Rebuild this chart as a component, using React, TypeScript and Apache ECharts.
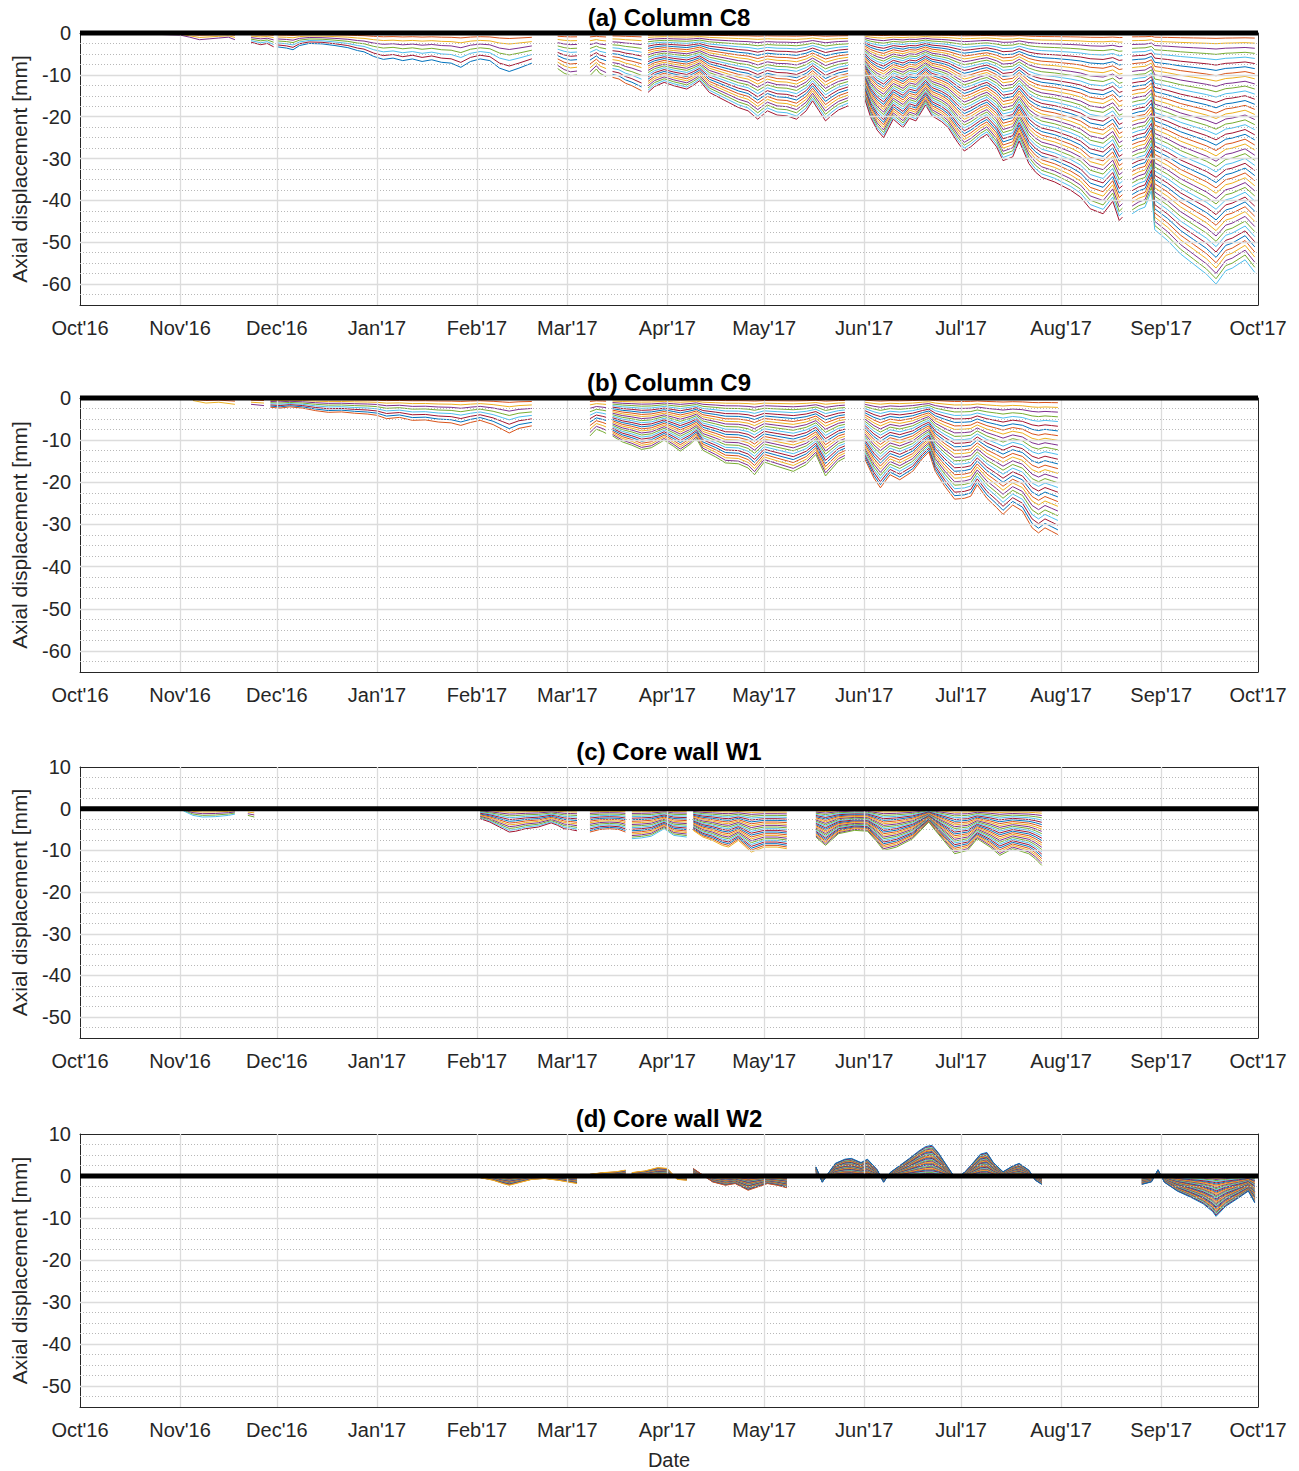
import React, { useEffect, useRef } from 'react';
import * as echarts from 'echarts';

// MATLAB default line colour order
const COLORS = ['#0072BD', '#D95319', '#EDB120', '#7E2F8E', '#77AC30', '#4DBEEE', '#A2142F'];
const MONTH_NAMES = ['Jan', 'Feb', 'Mar', 'Apr', 'May', 'Jun', 'Jul', 'Aug', 'Sep', 'Oct', 'Nov', 'Dec'];
const MONTH_TICKS = ['2016-10-01', '2016-11-01', '2016-12-01', '2017-01-01', '2017-02-01', '2017-03-01',
  '2017-04-01', '2017-05-01', '2017-06-01', '2017-07-01', '2017-08-01', '2017-09-01', '2017-10-01'];
const Y_TICKS_AB = [-60, -50, -40, -30, -20, -10, 0];
const Y_TICKS_CD = [-50, -40, -30, -20, -10, 0, 10];
const TITLES = ['(a) Column C8', '(b) Column C9', '(c) Core wall W1', '(d) Core wall W2'];

// Deepest sensor reading (envelope) per panel; null separates data segments.
// LINES_x: number of sensor curves in each segment.
const DATES_A = ['2016-10-18', '2016-10-24', '2016-10-28', '2016-11-01', '2016-11-04', '2016-11-07', '2016-11-10', '2016-11-13', '2016-11-16', '2016-11-18', null,
  '2016-11-23', '2016-11-26', '2016-11-28', '2016-11-30', null,
  '2016-12-01', '2016-12-04', '2016-12-06', '2016-12-08', '2016-12-11', '2016-12-15', '2016-12-19', '2016-12-23', '2016-12-26', '2016-12-28', '2016-12-31',
  '2017-01-03', '2017-01-06', '2017-01-09', '2017-01-12', '2017-01-15', '2017-01-18', '2017-01-21', '2017-01-24', '2017-01-27', '2017-01-30',
  '2017-02-02', '2017-02-05', '2017-02-08', '2017-02-11', '2017-02-14', '2017-02-18', null,
  '2017-02-26', '2017-02-28', '2017-03-02', '2017-03-04', null,
  '2017-03-08', '2017-03-10', '2017-03-11', '2017-03-13', null,
  '2017-03-15', '2017-03-17', '2017-03-19', '2017-03-21', '2017-03-24', null,
  '2017-03-26', '2017-03-28', '2017-03-31', '2017-04-03', '2017-04-07', '2017-04-09', '2017-04-11', '2017-04-14', '2017-04-17', '2017-04-20',
  '2017-04-23', '2017-04-26', '2017-04-29', '2017-05-02', '2017-05-05', '2017-05-08', '2017-05-11', '2017-05-14', '2017-05-16', '2017-05-18',
  '2017-05-20', '2017-05-22', '2017-05-24', '2017-05-27', null,
  '2017-06-01', '2017-06-03', '2017-06-05', '2017-06-07', '2017-06-10', '2017-06-13', '2017-06-15', '2017-06-17', '2017-06-20', '2017-06-22',
  '2017-06-25', '2017-06-27', '2017-06-30', '2017-07-02', '2017-07-04', '2017-07-07', '2017-07-09', '2017-07-12', '2017-07-14', '2017-07-17',
  '2017-07-19', '2017-07-22', '2017-07-24', '2017-07-26', '2017-07-30', '2017-08-01', '2017-08-04', '2017-08-07', '2017-08-10', '2017-08-14',
  '2017-08-17', '2017-08-19', '2017-08-20', null,
  '2017-08-23', '2017-08-25', '2017-08-27', '2017-08-29', '2017-08-30', '2017-09-03', '2017-09-07', '2017-09-11', '2017-09-15', '2017-09-18',
  '2017-09-21', '2017-09-23', '2017-09-27', '2017-09-30'];
const VALUES_A = [-0.3, -0.3, -0.4, -0.5, -1.0, -1.6, -1.4, -1.2, -1.0, -1.6, null,
  -2.2, -2.8, -2.5, -3.3, null,
  -3.3, -3.6, -4.0, -3.0, -2.5, -2.6, -3.0, -3.5, -4.2, -4.5, -5.6,
  -6.3, -6.0, -6.6, -6.2, -6.8, -6.4, -7.0, -7.2, -8.2, -6.8,
  -6.2, -6.6, -8.4, -9.2, -8.4, -7.2, null,
  -8.5, -9.6, -10.2, -10.0, null,
  -10.2, -8.6, -9.6, -10.4, null,
  -10.6, -11.0, -12.0, -12.6, -13.8, null,
  -14.2, -12.8, -11.8, -12.6, -13.4, -12.5, -11.4, -14.2, -15.4, -16.6,
  -17.8, -18.6, -20.6, -18.6, -19.6, -19.8, -20.6, -18.6, -16.2, -18.6,
  -21.0, -19.6, -18.4, -17.4, null,
  -15.4, -20.2, -23.2, -25.0, -20.6, -22.6, -20.4, -21.0, -17.2, -19.8,
  -21.2, -22.6, -26.2, -28.2, -27.2, -25.2, -24.2, -27.2, -30.5, -29.6,
  -25.8, -31.2, -33.2, -34.5, -35.6, -36.4, -37.6, -39.2, -42.0, -43.2,
  -40.2, -44.8, -44.0, null,
  -43.2, -42.2, -41.6, -37.6, -47.0, -49.6, -52.8, -55.2, -57.6, -60.0,
  -56.8, -56.2, -54.2, -57.2];
const LINES_A = [4, 7, 8, 12, 12, 16, 28, 42, 48];

const DATES_B = ['2016-11-05', '2016-11-09', '2016-11-13', '2016-11-18', null,
  '2016-11-23', '2016-11-27', null,
  '2016-11-29', '2016-12-02', '2016-12-05', '2016-12-09', '2016-12-13', '2016-12-17', '2016-12-21', '2016-12-25', '2016-12-29',
  '2017-01-01', '2017-01-04', '2017-01-08', '2017-01-12', '2017-01-16', '2017-01-20', '2017-01-24', '2017-01-27', '2017-01-30',
  '2017-02-02', '2017-02-06', '2017-02-09', '2017-02-11', '2017-02-14', '2017-02-18', null,
  '2017-03-08', '2017-03-10', '2017-03-12', '2017-03-13', null,
  '2017-03-15', '2017-03-18', '2017-03-21', '2017-03-24', '2017-03-27', '2017-03-31', '2017-04-03', '2017-04-05', '2017-04-08', '2017-04-10',
  '2017-04-12', '2017-04-16', '2017-04-19', '2017-04-23', '2017-04-26', '2017-04-28', '2017-05-01', '2017-05-05', '2017-05-10', '2017-05-14',
  '2017-05-17', '2017-05-20', '2017-05-24', '2017-05-26', null,
  '2017-06-01', '2017-06-04', '2017-06-06', '2017-06-09', '2017-06-12', '2017-06-16', '2017-06-19', '2017-06-21', '2017-06-23', '2017-06-26',
  '2017-06-29', '2017-07-02', '2017-07-04', '2017-07-06', '2017-07-09', '2017-07-12', '2017-07-14', '2017-07-17', '2017-07-20', '2017-07-23',
  '2017-07-25', '2017-07-27', '2017-07-29', '2017-07-31'];
const VALUES_B = [-0.6, -1.2, -1.0, -1.5, null,
  -1.5, -1.8, null,
  -2.2, -2.4, -2.1, -2.4, -3.0, -3.4, -3.3, -3.6, -3.8,
  -4.1, -4.9, -4.6, -5.3, -5.2, -5.7, -5.9, -6.5, -5.8,
  -5.3, -6.3, -7.5, -8.3, -7.2, -6.6, null,
  -9.0, -7.4, -8.0, -8.4, null,
  -9.0, -10.4, -11.2, -12.2, -11.8, -10.0, -11.5, -12.6, -11.0, -9.6,
  -12.4, -14.0, -15.4, -15.6, -16.6, -18.2, -15.2, -16.2, -17.4, -15.8,
  -13.4, -18.5, -15.0, -14.2, null,
  -14.2, -19.0, -21.3, -18.2, -19.4, -17.4, -14.4, -12.8, -17.4, -21.0,
  -24.0, -23.8, -23.3, -20.6, -23.8, -26.0, -27.6, -25.4, -26.8, -30.8,
  -32.0, -30.8, -31.6, -32.4];
const LINES_B = [3, 4, 9, 12, 26, 30];

const DATES_C = ['2016-10-22', '2016-10-27', null,
  '2016-11-02', '2016-11-05', '2016-11-08', '2016-11-12', '2016-11-16', '2016-11-18', null,
  '2016-11-22', '2016-11-24', null,
  '2017-02-02', '2017-02-05', '2017-02-08', '2017-02-11', '2017-02-13', '2017-02-16', '2017-02-20', '2017-02-24', '2017-02-26', '2017-02-28',
  '2017-03-02', '2017-03-04', null,
  '2017-03-08', '2017-03-11', '2017-03-14', '2017-03-17', '2017-03-19', null,
  '2017-03-21', '2017-03-24', '2017-03-27', '2017-03-31', '2017-04-03', '2017-04-07', null,
  '2017-04-09', '2017-04-12', '2017-04-15', '2017-04-18', '2017-04-20', '2017-04-23', '2017-04-27', '2017-05-01', '2017-05-05', '2017-05-08', null,
  '2017-05-17', '2017-05-20', '2017-05-24', '2017-05-29', '2017-06-02', '2017-06-05', '2017-06-07', '2017-06-11', '2017-06-16', '2017-06-21',
  '2017-06-23', '2017-06-26', '2017-06-29', '2017-07-03', '2017-07-06', '2017-07-10', '2017-07-13', '2017-07-17', '2017-07-22', '2017-07-24',
  '2017-07-26'];
const VALUES_C = [-0.3, -0.3, null,
  -0.5, -1.6, -2.0, -1.9, -1.6, -1.3, null,
  -1.6, -2.0, null,
  -2.4, -3.2, -4.4, -5.6, -5.4, -4.8, -4.4, -3.4, -4.0, -4.8,
  -5.0, -5.3, null,
  -5.6, -5.0, -4.8, -5.0, -5.6, null,
  -7.2, -7.0, -6.6, -4.8, -6.4, -6.8, null,
  -5.2, -6.8, -7.6, -8.8, -9.2, -7.6, -10.4, -9.2, -9.2, -9.6, null,
  -6.8, -8.8, -6.0, -5.2, -5.4, -8.0, -10.0, -9.2, -7.2, -3.2,
  -5.2, -8.0, -10.8, -10.0, -7.2, -9.2, -11.2, -9.6, -10.8, -12.0,
  -13.6];
const LINES_C = [2, 6, 5, 14, 16, 20, 24, 26];

const DATES_D = ['2016-11-05', '2016-11-14', null,
  '2017-02-02', '2017-02-06', '2017-02-09', '2017-02-11', '2017-02-14', '2017-02-18', '2017-02-22', '2017-02-26', '2017-03-01', '2017-03-04', null,
  '2017-03-08', '2017-03-12', '2017-03-16', '2017-03-19', null,
  '2017-03-21', '2017-03-25', '2017-03-29', '2017-04-01', '2017-04-04', '2017-04-07', null,
  '2017-04-09', '2017-04-12', '2017-04-15', '2017-04-19', '2017-04-22', '2017-04-26', '2017-04-29', '2017-05-02', '2017-05-05', '2017-05-08', null,
  '2017-05-17', '2017-05-19', '2017-05-21', '2017-05-23', '2017-05-26', '2017-05-28', '2017-05-31', '2017-06-02', '2017-06-05', '2017-06-07',
  '2017-06-09', '2017-06-12', '2017-06-15', '2017-06-18', '2017-06-20', '2017-06-22', '2017-06-24', '2017-06-27', '2017-06-29', '2017-07-02',
  '2017-07-04', '2017-07-07', '2017-07-09', '2017-07-11', '2017-07-14', '2017-07-17', '2017-07-19', '2017-07-22', '2017-07-24', '2017-07-26', null,
  '2017-08-26', '2017-08-29', '2017-08-31', '2017-09-02', '2017-09-06', '2017-09-10', '2017-09-14', '2017-09-17', '2017-09-18', '2017-09-21',
  '2017-09-25', '2017-09-28', '2017-09-30'];
const VALUES_D = [-0.3, -0.3, null,
  -0.4, -1.0, -1.8, -2.2, -1.6, -0.8, -0.6, -1.0, -1.4, -1.8, null,
  0.4, 0.8, 1.0, 1.4, null,
  0.8, 1.2, 2.0, 1.8, -0.8, -1.0, null,
  1.8, 0.2, -1.4, -2.2, -1.8, -3.4, -2.6, -1.8, -2.2, -2.8, null,
  2.2, -1.5, 0.8, 3.0, 4.0, 4.2, 3.2, 4.0, 1.5, -1.5,
  0.8, 2.5, 4.2, 6.0, 7.0, 7.3, 5.5, 2.0, -0.3, 0.8,
  2.5, 5.2, 5.6, 3.2, 1.0, 2.4, 3.0, 1.4, -1.0, -2.0, null,
  -2.0, -1.4, 1.5, -1.5, -3.6, -5.0, -6.6, -8.5, -9.6, -7.2,
  -5.2, -3.6, -6.4];
const LINES_D = [6, 24, 24, 24, 30, 36, 36];

const FONT = "'Liberation Sans', Arial, Helvetica, sans-serif";
const AXIS_COLOR = '#262626';

function ts(s: string): number {
  const [y, m, d] = s.split('-').map(Number);
  return Date.UTC(y, m - 1, d);
}

function segmentsOf(dates: (string | null)[], values: (number | null)[]) {
  const segs: [number, number][][] = [];
  let cur: [number, number][] = [];
  dates.forEach((d, i) => {
    const v = values[i];
    if (d === null || v === null) {
      if (cur.length) segs.push(cur);
      cur = [];
    } else {
      cur.push([ts(d), v]);
    }
  });
  if (cur.length) segs.push(cur);
  return segs;
}

function monthLabel(val: number) {
  const d = new Date(val + 12 * 3600 * 1000);
  return MONTH_NAMES[d.getUTCMonth()] + "'" + String(d.getUTCFullYear()).slice(2);
}

export default function App() {
  const ref = useRef<HTMLDivElement>(null);

  useEffect(() => {
    document.body.style.margin = '0';
    if (!ref.current) return;
    const chart = echarts.init(ref.current, null, { renderer: 'svg' });

    const T0 = ts(MONTH_TICKS[0]);
    const T1 = ts(MONTH_TICKS[MONTH_TICKS.length - 1]);
    const monthTs = MONTH_TICKS.map(ts);

    const panels = [
      { top: 33, h: 272, min: -65, max: 0, ticks: Y_TICKS_AB, dates: DATES_A, values: VALUES_A, lines: LINES_A },
      { top: 398, h: 274, min: -65, max: 0, ticks: Y_TICKS_AB, dates: DATES_B, values: VALUES_B, lines: LINES_B },
      { top: 767, h: 271, min: -55, max: 10, ticks: Y_TICKS_CD, dates: DATES_C, values: VALUES_C, lines: LINES_C },
      { top: 1134, h: 273, min: -55, max: 10, ticks: Y_TICKS_CD, dates: DATES_D, values: VALUES_D, lines: LINES_D },
    ];
    const LEFT = 80;
    const WIDTH = 1178;

    const grid: any[] = [];
    const xAxis: any[] = [];
    const yAxis: any[] = [];
    const series: any[] = [];
    const graphic: any[] = [];

    panels.forEach((p, g) => {
      grid.push({ left: LEFT, top: p.top, width: WIDTH, height: p.h, containLabel: false });
      const isLast = g === panels.length - 1;
      xAxis.push({
        type: 'value', gridIndex: g, min: T0, max: T1, position: 'bottom',
        name: isLast ? 'Date' : '', nameLocation: 'middle', nameGap: 43,
        nameTextStyle: { fontSize: 20, color: AXIS_COLOR, fontFamily: FONT },
        axisLine: { show: true, onZero: false, lineStyle: { color: AXIS_COLOR, width: 1 } },
        axisTick: { show: true, inside: true, length: 12, customValues: monthTs, lineStyle: { color: AXIS_COLOR, width: 1 } },
        axisLabel: { show: true, customValues: monthTs, formatter: monthLabel, color: AXIS_COLOR, fontSize: 20, fontFamily: FONT, margin: 13, hideOverlap: false },
        splitLine: { show: false },
      });
      xAxis.push({
        type: 'value', gridIndex: g, min: T0, max: T1, position: 'top',
        axisLine: { show: true, onZero: false, lineStyle: { color: AXIS_COLOR, width: 1 } },
        axisTick: { show: true, inside: true, length: 12, customValues: monthTs, lineStyle: { color: AXIS_COLOR, width: 1 } },
        axisLabel: { show: false },
        splitLine: { show: false },
      });
      yAxis.push({
        type: 'value', gridIndex: g, min: p.min, max: p.max, position: 'left',
        name: 'Axial displacement [mm]', nameLocation: 'middle', nameGap: 50,
        nameTextStyle: { fontSize: 21, color: AXIS_COLOR, fontFamily: FONT },
        axisLine: { show: true, onZero: false, lineStyle: { color: AXIS_COLOR, width: 1 } },
        axisTick: { show: true, inside: true, length: 12, customValues: p.ticks, lineStyle: { color: AXIS_COLOR, width: 1 } },
        axisLabel: { show: true, customValues: p.ticks, color: AXIS_COLOR, fontSize: 20, fontFamily: FONT, margin: 9 },
        splitLine: { show: false },
      });
      yAxis.push({
        type: 'value', gridIndex: g, min: p.min, max: p.max, position: 'right',
        axisLine: { show: true, onZero: false, lineStyle: { color: AXIS_COLOR, width: 1 } },
        axisTick: { show: true, inside: true, length: 12, customValues: p.ticks, lineStyle: { color: AXIS_COLOR, width: 1 } },
        axisLabel: { show: false },
        splitLine: { show: false },
      });

      const xi = g * 2;
      const yi = g * 2;

      const gridLines: any[] = [];
      for (let v = p.min + 2.5; v < p.max - 0.01; v += 2.5) {
        const isMajor = Math.abs(v % 10) < 0.01;
        if (isMajor) {
          gridLines.push({ yAxis: v, lineStyle: { type: 'solid', color: '#dcdcdc', width: 1.3 } });
        } else {
          gridLines.push({ yAxis: v, lineStyle: { type: [1, 2], color: '#b8b8b8', width: 1 } });
        }
      }
      monthTs.slice(1, -1).forEach((t) => {
        gridLines.push({ xAxis: t, lineStyle: { type: 'solid', color: '#dcdcdc', width: 1.3 } });
      });
      series.push({
        type: 'line', xAxisIndex: xi, yAxisIndex: yi, data: [[T0, -100], [T1, -100]], silent: true, z: 1,
        symbol: 'none', lineStyle: { opacity: 0 },
        markLine: { silent: true, symbol: ['none', 'none'], label: { show: false }, animation: false, data: gridLines },
      });

      const segs = segmentsOf(p.dates, p.values);
      segs.forEach((seg, si) => {
        const n = p.lines[si] || 2;
        for (let k = 0; k < n; k++) {
          const frac = n > 1 ? k / (n - 1) : 1;
          series.push({
            type: 'line', xAxisIndex: xi, yAxisIndex: yi, silent: true, z: 3,
            symbol: 'none', showSymbol: false,
            lineStyle: { width: 1, color: COLORS[k % COLORS.length] },
            itemStyle: { color: COLORS[k % COLORS.length] },
            data: seg.map(([t, v]) => [t, +(v * frac).toFixed(3)]),
          });
        }
      });

      series.push({
        type: 'line', xAxisIndex: xi, yAxisIndex: yi, silent: true, z: 10, clip: false,
        symbol: 'none', lineStyle: { width: 5, color: '#000000' },
        data: [[T0, 0], [T1, 0]],
      });

      graphic.push({
        type: 'text', x: LEFT + WIDTH / 2, y: p.top - 16,
        style: { text: TITLES[g], align: 'center', verticalAlign: 'middle', font: `bold 24px ${FONT}`, fill: '#000000' },
      });
    });

    chart.setOption({
      animation: false,
      backgroundColor: '#ffffff',
      textStyle: { fontFamily: FONT },
      grid, xAxis, yAxis, series, graphic,
    });

    return () => chart.dispose();
  }, []);

  return <div ref={ref} style={{ width: 1299, height: 1471 }} />;
}
